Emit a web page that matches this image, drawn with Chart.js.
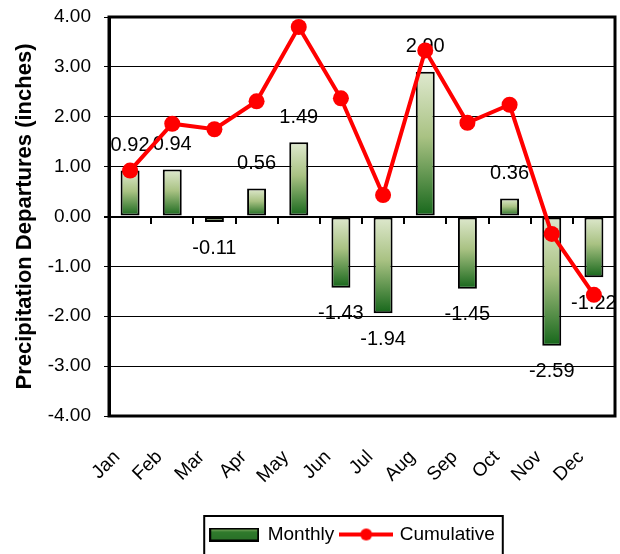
<!DOCTYPE html>
<html>
<head>
<meta charset="utf-8">
<script src="https://cdn.jsdelivr.net/npm/chart.js@4"></script>
<style>
  html, body { margin: 0; padding: 0; background: #fff; }
  #wrap { width: 620px; height: 554px; }
</style>
</head>
<body>
<div id="wrap"><canvas id="chart" width="620" height="554"></canvas></div>
<script>
const months = ['Jan', 'Feb', 'Mar', 'Apr', 'May', 'Jun', 'Jul', 'Aug', 'Sep', 'Oct', 'Nov', 'Dec'];
const monthly = [0.92, 0.94, -0.11, 0.56, 1.49, -1.43, -1.94, 2.90, -1.45, 0.36, -2.59, -1.22];
const cumulative = [0.92, 1.86, 1.75, 2.31, 3.80, 2.37, 0.43, 3.33, 1.88, 2.24, -0.35, -1.57];
const yTicks = { min: -4, max: 4, step: 1 };

const FONT = '"Liberation Sans", Arial, sans-serif';

// bar fill: light at the top, dark green at the bottom
function barGradient(ctx) {
    const chart = ctx.chart;
    const y = chart.scales.y;
    if (!y || ctx.type !== 'data') return '#5a8a3a';
    const v = ctx.raw;
    const p0 = y.getPixelForValue(0);
    const p1 = y.getPixelForValue(v);
    if (!isFinite(p0) || !isFinite(p1)) return '#5a8a3a';
    const top = Math.min(p0, p1), bottom = Math.max(p0, p1);
    const g = chart.ctx.createLinearGradient(0, top, 0, bottom + 0.01);
    g.addColorStop(0, '#dfe9cf');
    g.addColorStop(0.45, '#a9c283');
    g.addColorStop(1, '#15661a');
    return g;
}

// legend swatches
function barSwatch() {
    const c = document.createElement('canvas');
    c.width = 50; c.height = 14;
    const x = c.getContext('2d');
    const g = x.createLinearGradient(0, 1, 0, 13);
    g.addColorStop(0, '#8db36a');
    g.addColorStop(0.3, '#2f7a2c');
    g.addColorStop(1, '#2a7028');
    x.fillStyle = g;
    x.fillRect(1, 1, 48, 12);
    x.strokeStyle = '#000';
    x.lineWidth = 2;
    x.strokeRect(1, 1, 48, 12);
    return c;
}
function lineSwatch() {
    const c = document.createElement('canvas');
    c.width = 54; c.height = 16;
    const x = c.getContext('2d');
    x.strokeStyle = '#ff0000';
    x.lineWidth = 4;
    x.beginPath(); x.moveTo(0, 8); x.lineTo(54, 8); x.stroke();
    x.fillStyle = '#ff0000';
    x.beginPath(); x.arc(27, 8, 6, 0, Math.PI * 2); x.fill();
    return c;
}
const swatches = [barSwatch(), lineSwatch()];

// monthly value labels, drawn right after the bars so the line passes over them
const barLabels = {
    id: 'barLabels',
    afterDatasetDraw(chart, args) {
        if (args.index !== 0) return;
        const ctx = chart.ctx;
        ctx.save();
        ctx.font = '20px ' + FONT;
        ctx.fillStyle = '#000';
        ctx.textAlign = 'center';
        ctx.textBaseline = 'middle';
        args.meta.data.forEach((el, i) => {
            const v = monthly[i];
            const y = v >= 0 ? el.y - 25 : el.y + 26;
            ctx.fillText(v.toFixed(2), el.x, y);
        });
        ctx.restore();
    }
};

// thick frame round the plot and box round the legend
const frame = {
    id: 'frame',
    afterLayout(chart) {
        // legend sits right of the canvas centre in the original
        const lg = chart.legend;
        lg.left += 43;
        lg.right += 43;
    },
    afterDraw(chart) {
        const ctx = chart.ctx;
        const a = chart.chartArea;
        ctx.save();
        ctx.strokeStyle = '#000';
        ctx.lineWidth = 3;
        ctx.strokeRect(a.left, a.top, a.right - a.left, a.bottom - a.top);
        const boxes = chart.legend.legendHitBoxes;
        if (boxes && boxes.length) {
            const l = Math.min(...boxes.map(b => b.left)) - 6;
            const r = Math.max(...boxes.map(b => b.left + b.width)) + 8;
            const t = boxes[0].top - 9;
            ctx.lineWidth = 2;
            ctx.strokeRect(l, t, r - l, 80);
        }
        ctx.restore();
    }
};

new Chart(document.getElementById('chart'), {
    data: {
        labels: months,
        datasets: [
            {
                type: 'bar',
                label: 'Monthly',
                data: monthly,
                backgroundColor: barGradient,
                borderColor: '#000',
                borderWidth: 2,
                borderSkipped: false,
                barPercentage: 0.9,
                categoryPercentage: 0.5,
                order: 2,
            },
            {
                type: 'line',
                label: 'Cumulative',
                data: cumulative,
                borderColor: '#ff0000',
                backgroundColor: '#ff0000',
                borderWidth: 4,
                pointRadius: 8,
                pointBorderWidth: 0,
                tension: 0,
                clip: false,
                order: 1,
            },
        ],
    },
    plugins: [barLabels, frame],
    options: {
        responsive: false,
        animation: false,
        layout: { autoPadding: false, padding: { left: 4, right: 5, top: 17, bottom: 0 } },
        plugins: {
            tooltip: { enabled: false },
            legend: {
                display: true,
                position: 'bottom',
                labels: {
                    usePointStyle: true,
                    pointStyleWidth: 48,
                    color: '#000',
                    font: { family: FONT, size: 19 },
                    padding: 8,
                    sort: (a, b) => a.datasetIndex - b.datasetIndex,
                    generateLabels(chart) {
                        const items = Chart.defaults.plugins.legend.labels.generateLabels(chart);
                        items.forEach(it => { it.pointStyle = swatches[it.datasetIndex]; });
                        return items;
                    },
                },
            },
        },
        scales: {
            x: {
                type: 'category',
                offset: true,
                grid: { display: true, drawOnChartArea: false, drawTicks: false },
                border: { display: false },
                ticks: {
                    color: '#000',
                    font: { family: FONT, size: 19 },
                    minRotation: 45,
                    maxRotation: 45,
                    padding: 30,
                    labelOffset: -13,
                    autoSkip: false,
                },
                afterFit(scale) {
                    scale.height = 101;
                    scale.paddingRight = 0;
                },
            },
            x2: {
                type: 'category',
                labels: months,
                position: { y: 0 },
                offset: true,
                grid: { offset: true, drawOnChartArea: false, drawTicks: true, tickLength: 6, color: '#000', lineWidth: 2 },
                border: { display: true, color: '#000', width: 2 },
                ticks: { display: false },
            },
            y: {
                min: yTicks.min,
                max: yTicks.max,
                grid: {
                    color: '#000',
                    lineWidth: c => (c.tick && c.tick.value === 0 ? 2 : 1),
                    tickLength: 5,
                },
                border: { display: true, color: '#000', width: 3 },
                ticks: {
                    stepSize: yTicks.step,
                    color: '#000',
                    font: { family: FONT, size: 19 },
                    padding: 13,
                    callback: v => v.toFixed(2),
                },
                title: {
                    display: true,
                    text: 'Precipitation Departures (inches)',
                    color: '#000',
                    font: { family: FONT, size: 22, weight: 'bold' },
                    padding: { top: 8, bottom: 8 },
                },
                afterFit(scale) {
                    scale.width = 105;
                    scale.paddingTop = 0;
                    scale.paddingBottom = 0;
                },
            },
        },
    },
});
</script>
</body>
</html>
